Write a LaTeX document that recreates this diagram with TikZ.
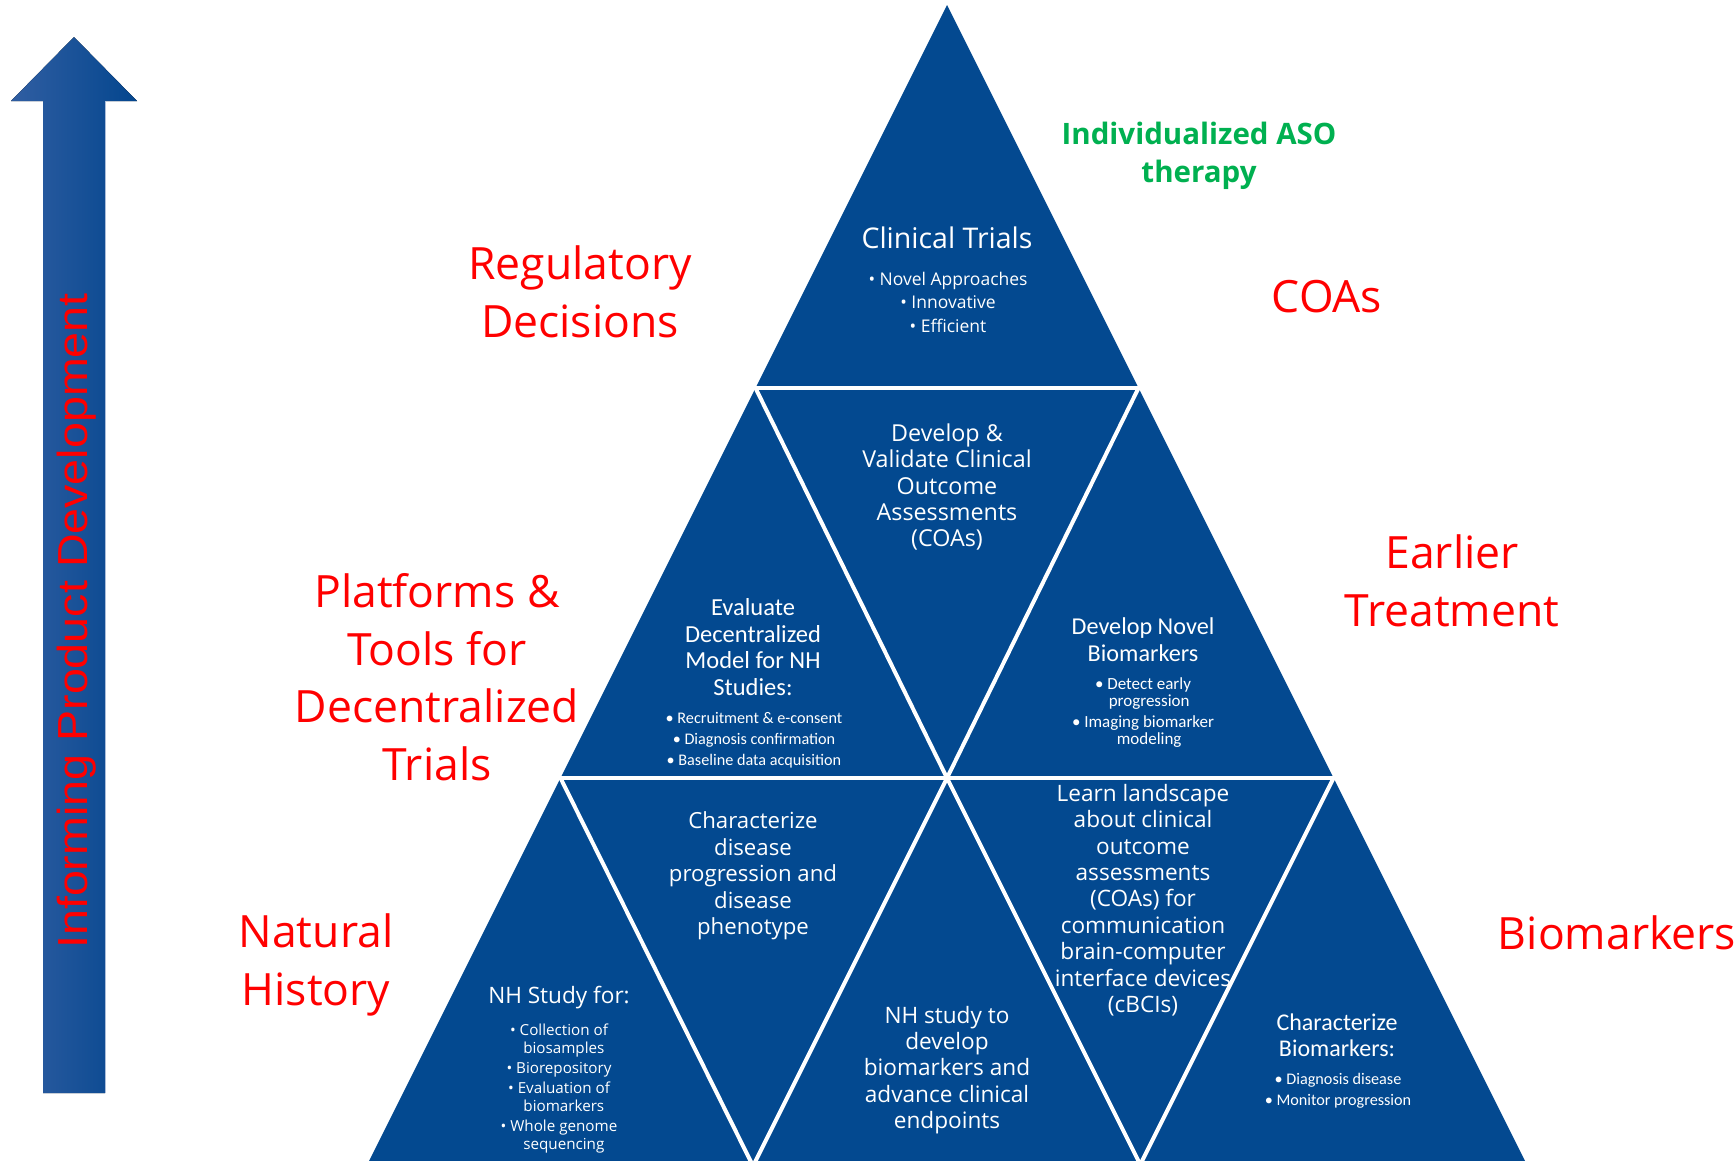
\documentclass[tikz,border=0pt]{standalone}
\usepackage{fontspec}
\setmainfont{Open Sans}
\newfontfamily\calfont{Carlito}
\newfontfamily\arrowfont{Liberation Sans}
\usetikzlibrary{calc}

\definecolor{pyrblue}{RGB}{3,73,144}
\definecolor{lblred}{RGB}{255,0,0}
\definecolor{asogreen}{RGB}{0,176,80}
\definecolor{arrowlight}{RGB}{48,94,162}
\definecolor{arrowdark}{RGB}{4,70,142}

\begin{document}
\begin{tikzpicture}[x=1pt,y=-1pt,
  redlbl/.style={text=lblred, align=center, inner sep=0pt,
    font=\fontsize{44.5}{57.5}\selectfont},
  greenlbl/.style={text=asogreen, align=center, inner sep=0pt,
    font=\fontsize{29.5}{38}\selectfont\bfseries},
  cellhead/.style={text=white, align=center, inner sep=0pt,
    font=\fontsize{22.6}{26.4}\selectfont},
  calhead/.style={text=white, align=center, inner sep=0pt,
    font=\calfont\fontsize{24.5}{26.4}\selectfont},
  cellitems/.style={text=white, align=center, inner sep=0pt,
    font=\fontsize{15.2}{18}\selectfont},
  calitems/.style={text=white, align=center, inner sep=0pt,
    font=\calfont\fontsize{16.2}{21}\selectfont},
  gap/.style={draw=white, line width=4pt},
]
\useasboundingbox (0,0) rectangle (1736,1160);
\clip (0,0) rectangle (1736,1160);

% ---- upward arrow on the left ----
\coordinate (tip) at (74,37);
\fill[left color=arrowlight, right color=arrowdark]
  (tip) -- (137,101) -- (105,101) -- (105,1093) -- (43,1093) -- (43,101) -- (11,101) -- cycle;
\draw[arrowlight!40!white, line width=0.8pt] (105,101) -- (105,1093);
\node (arrowtxt) [rotate=90, text=lblred, inner sep=0pt,
  font=\arrowfont\fontsize{42}{42}\selectfont]
  at (77,621) {\scalebox{1.11}[1]{Informing Product Development}};

% ---- pyramid ----
\coordinate (apex) at (947,5);
\coordinate (L1) at (755.5,388);
\coordinate (R1) at (1138.5,388);
\coordinate (L2) at (560.5,778);
\coordinate (M2) at (947,778);
\coordinate (R2) at (1333.5,778);
\coordinate (L3) at (365.5,1168);
\coordinate (R3) at (1528.5,1168);
\coordinate (B1) at (754,1168);
\coordinate (B2) at (752,1168);
\coordinate (B3) at (1142,1168);
\coordinate (B4) at (1138.5,1168);

\fill[pyrblue] (apex) -- (R3) -- (L3) -- cycle;

% white seams between the cells
\draw[gap] ($(L1)+(-4,0)$) -- ($(R1)+(4,0)$);
\draw[gap] ($(L2)+(-4,0)$) -- ($(R2)+(4,0)$);
\draw[gap] (L1) -- (M2) -- (R1);
\draw[gap] (L2) -- (B1);
\draw[gap] (M2) -- (B2);
\draw[gap] (M2) -- (B3);
\draw[gap] (R2) -- (B4);

% ---- cell texts ----
\node (ctitle) [cellhead, font=\fontsize{28.5}{30}\selectfont] at (947,238) {Clinical Trials};
\node (clist) [cellitems, font=\fontsize{17.5}{23.5}\selectfont] at (948,302)
  {\textbullet\ Novel Approaches\\ \textbullet\ Innovative\\ \textbullet\ Efficient};

\node (coadev) [cellhead, font=\fontsize{23.3}{26.4}\selectfont] at (947,487)
  {Develop \&\\ Validate Clinical\\ Outcome\\ Assessments\\ (COAs)};

\node (dctitle) [calhead] at (753,647)
  {Evaluate\\ Decentralized\\ Model for NH\\ Studies:};
\node (dclist) [calitems] at (754,740)
  {\textbullet\ Recruitment \& e-consent\\ \textbullet\ Diagnosis confirmation\\ \textbullet\ Baseline data acquisition};

\node (nbtitle) [calhead, font=\calfont\fontsize{24.2}{27}\selectfont] at (1143,640)
  {Develop Novel\\ Biomarkers};
\node (nblist) [calitems, font=\calfont\fontsize{17}{17}\selectfont] at (1143,713)
  {\textbullet\ Detect early\\ \phantom{\textbullet\ }progression\\[4pt]
   \textbullet\ Imaging biomarker\\ \phantom{\textbullet\ }modeling};

\node (phen) [cellhead, font=\fontsize{22.2}{26.4}\selectfont] at (753,876)
  {Characterize\\ disease\\ progression and\\ disease\\ phenotype};

\node (nhdev) [cellhead] at (947,1070)
  {NH study to\\ develop\\ biomarkers and\\ advance clinical\\ endpoints};

\node (cbci) [cellhead] at (1143,900)
  {Learn landscape\\ about clinical\\ outcome\\ assessments\\ (COAs) for\\ communication\\ brain-computer\\ interface devices\\ (cBCIs)};

\node (nhtitle) [cellhead] at (559,998) {NH Study for:};
\node (nhlist) [cellitems] at (559,1088)
  {\textbullet\ Collection of\\ \phantom{\textbullet\ }biosamples\\[2pt]
   \textbullet\ Biorepository\\[2pt]
   \textbullet\ Evaluation of\\ \phantom{\textbullet\ }biomarkers\\[2pt]
   \textbullet\ Whole genome\\ \phantom{\textbullet\ }sequencing};

\node (cbtitle) [calhead, font=\calfont\fontsize{24}{26}\selectfont] at (1337,1035)
  {Characterize\\ Biomarkers:};
\node (cblist) [calitems, font=\calfont\fontsize{16.2}{21}\selectfont] at (1338,1091)
  {\textbullet\ Diagnosis disease\\ \textbullet\ Monitor progression};

% ---- outer labels ----
\node (aso) [greenlbl] at (1199,156) {Individualized ASO\\ therapy};
\node (reg) [redlbl] at (580,292) {Regulatory\\ Decisions};
\node (coas) [redlbl] at (1327,297) {COAs};
\node (plat) [redlbl] at (437,677) {Platforms \&\\ Tools for\\ Decentralized\\ Trials};
\node (early) [redlbl] at (1452,581) {Earlier\\ Treatment};
\node (nath) [redlbl] at (316,965) {Natural\\ History};
\node (bio) [redlbl] at (1617,933) {Biomarkers};
\end{tikzpicture}
\end{document}
